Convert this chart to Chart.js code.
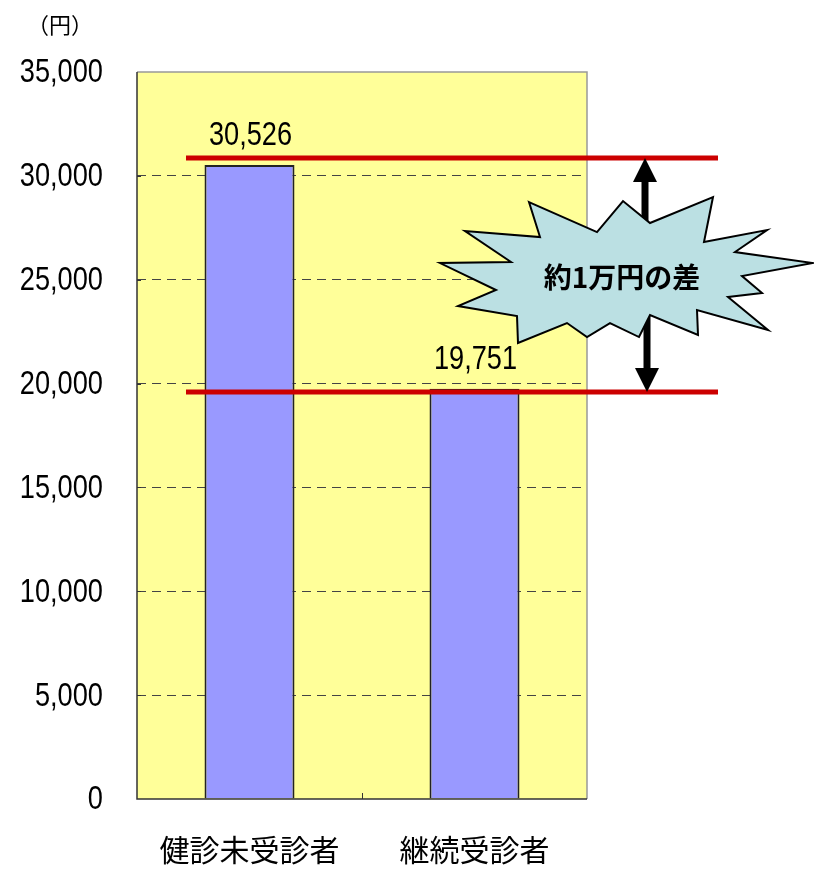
<!DOCTYPE html>
<html lang="ja">
<head>
    <meta charset="UTF-8">
    <title>健診未受診者と継続受診者の差</title>
    <style>
        body {
            margin: 0;
            background-color: #fff;
        }
        .chart-container {
            position: relative;
            width: 814px;
            height: 869px;
        }
    </style>
</head>
<body>

<div class="chart-container">
    <canvas id="costChart"></canvas>
</div>

<script src="https://cdn.jsdelivr.net/npm/chart.js"></script>
<script>
    const categories = ['健診未受診者', '継続受診者'];
    const costs = [30526, 19751];
    const yMin = 0;
    const yMax = 35000;
    const yStep = 5000;
    const gapLevels = [30860, 19590];   // red guide lines, in 円
    const gapText = '約1万円の差';
    const unitText = '（円）';

    const numFont = "'Liberation Sans', Arial, sans-serif";
    const jpFont = "'Noto Sans CJK JP', sans-serif";
    const squeeze = 0.8;   // numbers in the original are set in a narrow face

    // starburst outline, offsets from its centre
    const burst = [
        [-98, -73], [-30, -43], [-4, -74], [23, -52], [86, -78], [77, -33],
        [140, -45], [108, -23], [186, -12], [115, 1], [135, 18], [101, 22],
        [141, 55], [70, 35], [71, 60], [23, 40], [12, 62], [-17, 48],
        [-40, 62], [-60, 48], [-109, 68], [-110, 41], [-169, 31], [-131, 15],
        [-187, -12], [-116, -13], [-162, -44], [-87, -38]
    ];

    function narrowText(ctx, text, x, y, align) {
        ctx.save();
        ctx.translate(x, y);
        ctx.scale(squeeze, 1);
        ctx.textAlign = align;
        ctx.fillText(text, 0, 0);
        ctx.restore();
    }

    function arrow(ctx, x, y0, y1) {
        const dir = y1 > y0 ? 1 : -1;
        const headLen = 24, headW = 12;
        ctx.strokeStyle = '#000';
        ctx.lineWidth = 7;
        ctx.beginPath();
        ctx.moveTo(x, y0);
        ctx.lineTo(x, y1 - dir * headLen);
        ctx.stroke();
        ctx.fillStyle = '#000';
        ctx.beginPath();
        ctx.moveTo(x, y1);
        ctx.lineTo(x - headW, y1 - dir * headLen);
        ctx.lineTo(x + headW, y1 - dir * headLen);
        ctx.closePath();
        ctx.fill();
    }

    const decorations = {
        id: 'decorations',
        beforeDraw(chart) {
            const {ctx, chartArea: a} = chart;
            ctx.save();
            ctx.fillStyle = '#FFFF99';
            ctx.fillRect(a.left, a.top, a.right - a.left, a.bottom - a.top);
            ctx.restore();
        },
        afterDatasetsDraw(chart) {
            const {ctx, chartArea: a, scales} = chart;
            const y = scales.y;
            ctx.save();

            // frame
            ctx.lineWidth = 1.5;
            ctx.strokeStyle = '#999';
            ctx.beginPath();
            ctx.moveTo(a.left, a.top);
            ctx.lineTo(a.right, a.top);
            ctx.lineTo(a.right, a.bottom);
            ctx.stroke();
            ctx.strokeStyle = '#333';
            ctx.beginPath();
            ctx.moveTo(a.left, a.top);
            ctx.lineTo(a.left, a.bottom);
            ctx.lineTo(a.right, a.bottom);
            ctx.stroke();

            // inward tick marks
            ctx.lineWidth = 1;
            for (let v = yMin + yStep; v < yMax; v += yStep) {
                const py = Math.round(y.getPixelForValue(v)) + 0.5;
                ctx.beginPath();
                ctx.moveTo(a.left, py);
                ctx.lineTo(a.left + 4, py);
                ctx.stroke();
            }
            const bars = chart.getDatasetMeta(0).data;
            const midX = Math.round((bars[0].x + bars[1].x) / 2) + 0.5;
            ctx.beginPath();
            ctx.moveTo(midX, a.bottom);
            ctx.lineTo(midX, a.bottom - 6);
            ctx.stroke();

            // y tick labels
            ctx.fillStyle = '#000';
            ctx.font = '34px ' + numFont;
            ctx.textBaseline = 'middle';
            y.ticks.forEach(t => {
                narrowText(ctx, t.value.toLocaleString('en-US'), a.left - 34, y.getPixelForValue(t.value) + 1, 'right');
            });

            // value labels
            ctx.textBaseline = 'alphabetic';
            bars.forEach((bar, i) => {
                narrowText(ctx, costs[i].toLocaleString('en-US'), bar.x + 1, bar.y - 20, 'center');
            });

            // unit
            ctx.font = '22px ' + jpFont;
            ctx.textAlign = 'center';
            ctx.textBaseline = 'middle';
            ctx.fillText(unitText, 60, 25);

            // red guide lines
            const lineYs = gapLevels.map(v => y.getPixelForValue(v));
            ctx.strokeStyle = '#CC0000';
            ctx.lineWidth = 5;
            lineYs.forEach(py => {
                ctx.beginPath();
                ctx.moveTo(a.left + 49, py);
                ctx.lineTo(a.right + 131, py);
                ctx.stroke();
            });

            // arrows and starburst
            const cx = a.right + 40;
            const cy = (lineYs[0] + lineYs[1]) / 2;
            arrow(ctx, cx + 18, cy - 30, lineYs[0]);
            arrow(ctx, cx + 20, cy + 30, lineYs[1]);

            ctx.beginPath();
            burst.forEach(([dx, dy], i) => {
                if (i === 0) ctx.moveTo(cx + dx, cy + dy);
                else ctx.lineTo(cx + dx, cy + dy);
            });
            ctx.closePath();
            ctx.fillStyle = '#BBE0E3';
            ctx.fill();
            ctx.lineWidth = 2;
            ctx.strokeStyle = '#000';
            ctx.lineJoin = 'miter';
            ctx.stroke();

            ctx.fillStyle = '#000';
            ctx.font = 'bold 28px ' + jpFont;
            ctx.textAlign = 'center';
            ctx.textBaseline = 'middle';
            ctx.fillText(gapText, cx - 5, cy + 2);

            ctx.restore();
        }
    };

    new Chart(document.getElementById('costChart'), {
        type: 'bar',
        data: {
            labels: categories,
            datasets: [{
                data: costs,
                backgroundColor: '#9999FF',
                borderColor: '#222',
                borderWidth: 2,
                categoryPercentage: 1,
                barPercentage: 0.4
            }]
        },
        options: {
            responsive: true,
            maintainAspectRatio: false,
            animation: false,
            layout: {
                padding: {top: 72, right: 227, bottom: 0, left: 0}
            },
            plugins: {
                legend: {display: false},
                tooltip: {enabled: false}
            },
            scales: {
                x: {
                    grid: {display: false},
                    border: {display: false},
                    ticks: {
                        color: '#000',
                        padding: 25,
                        font: {family: jpFont, size: 30}
                    },
                    afterFit(scale) { scale.height = 70; }
                },
                y: {
                    min: yMin,
                    max: yMax,
                    grid: {
                        drawTicks: false,
                        color: ctx => (ctx.tick && (ctx.tick.value === yMin || ctx.tick.value === yMax)) ? 'transparent' : '#444',
                        lineWidth: 1
                    },
                    border: {display: false, dash: [9, 6]},
                    ticks: {
                        display: false,
                        stepSize: yStep
                    },
                    afterFit(scale) { scale.width = 137; }
                }
            }
        },
        plugins: [decorations]
    });
</script>

</body>
</html>
